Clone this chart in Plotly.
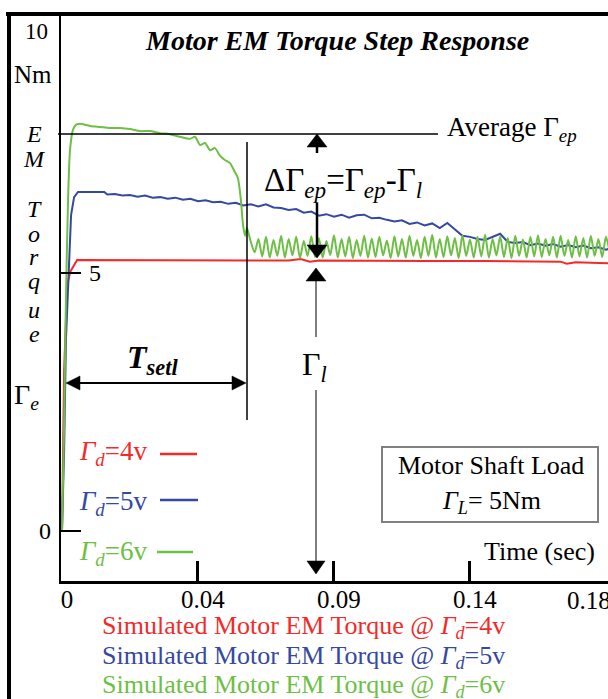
import plotly.graph_objects as go

# ---------------- data ----------------
red_series = [
    (0.0, 0.0), (0.0007, 3.1), (0.0017, 4.75), (0.0027, 5.02), (0.005, 5.25),
    (0.02, 5.25), (0.04, 5.25), (0.06, 5.25), (0.075, 5.24), (0.079, 5.27),
    (0.082, 5.22), (0.085, 5.24), (0.1, 5.23), (0.12, 5.23), (0.14, 5.23),
    (0.165, 5.22), (0.167, 5.18), (0.17, 5.21), (0.175, 5.2), (0.181, 5.19),
]

blue_series = [
    (0.0, 0.0), (0.0007, 1.57), (0.0013, 3.70), (0.002, 4.86), (0.003, 6.12),
    (0.004, 6.47), (0.0053, 6.57), (0.014, 6.57), (0.015, 6.52), (0.0175, 6.53),
    (0.02, 6.50), (0.0225, 6.51), (0.025, 6.48), (0.0275, 6.50), (0.03, 6.46),
    (0.0325, 6.47), (0.035, 6.44), (0.0375, 6.46), (0.04, 6.42), (0.0425, 6.44),
    (0.045, 6.39), (0.0475, 6.41), (0.05, 6.37), (0.0525, 6.38), (0.055, 6.34),
    (0.0575, 6.36), (0.06, 6.31), (0.0625, 6.33), (0.065, 6.29), (0.0675, 6.33),
    (0.07, 6.27), (0.0725, 6.26), (0.075, 6.22), (0.0775, 6.24), (0.08, 6.17),
    (0.0825, 6.19), (0.085, 6.11), (0.0875, 6.14), (0.09, 6.09), (0.0925, 6.13),
    (0.095, 6.07), (0.0975, 6.12), (0.1, 6.13), (0.1025, 6.06), (0.105, 6.07),
    (0.1075, 6.03), (0.11, 6.00), (0.1125, 6.02), (0.115, 5.95), (0.1175, 5.98),
    (0.12, 5.92), (0.1225, 5.96), (0.125, 5.87), (0.1275, 5.97), (0.13, 5.85),
    (0.1325, 5.72), (0.135, 5.70), (0.1375, 5.66), (0.14, 5.64), (0.1425, 5.70),
    (0.145, 5.76), (0.1475, 5.60), (0.15, 5.58), (0.1525, 5.60), (0.155, 5.54),
    (0.1575, 5.57), (0.16, 5.53), (0.1625, 5.56), (0.165, 5.51), (0.1675, 5.54),
    (0.17, 5.50), (0.1725, 5.53), (0.175, 5.48), (0.1775, 5.50), (0.18, 5.45),
    (0.181, 5.47),
]

green_series = [
    (0.0, 0.0), (0.00066, 1.96), (0.0013, 4.48), (0.002, 6.41), (0.00265, 7.38),
    (0.0036, 7.77), (0.0046, 7.87), (0.006, 7.89), (0.0093, 7.85), (0.0126, 7.83),
    (0.0159, 7.81), (0.0192, 7.81), (0.0225, 7.79), (0.0258, 7.75), (0.0291, 7.75),
    (0.0324, 7.71), (0.0357, 7.69), (0.039, 7.64), (0.0424, 7.60), (0.044, 7.64),
    (0.0457, 7.48), (0.0473, 7.52), (0.049, 7.38), (0.0506, 7.42), (0.0523, 7.27),
    (0.0539, 7.19), (0.0556, 7.13), (0.0569, 6.99), (0.0582, 6.84), (0.0592, 6.41),
    (0.0599, 5.93), (0.0606, 5.72), (0.0612, 5.87),
    (0.0625, 5.60), (0.06375, 5.40), (0.065, 5.66), (0.06625, 5.32), (0.0675, 5.70),
    (0.06875, 5.30), (0.07, 5.64), (0.07125, 5.33), (0.0725, 5.72), (0.07375, 5.30),
    (0.075, 5.66), (0.07625, 5.34), (0.0775, 5.70), (0.07875, 5.29), (0.08, 5.62),
    (0.08125, 5.33), (0.0825, 5.71), (0.08375, 5.31), (0.085, 5.68), (0.08625, 5.30),
    (0.0875, 5.62), (0.08875, 5.35), (0.09, 5.73), (0.09125, 5.30), (0.0925, 5.66),
    (0.09375, 5.32), (0.095, 5.70), (0.09625, 5.29), (0.0975, 5.64), (0.09875, 5.33),
    (0.1, 5.72), (0.10125, 5.30), (0.1025, 5.67), (0.10375, 5.31), (0.105, 5.70),
    (0.10625, 5.34), (0.1075, 5.63), (0.10875, 5.29), (0.11, 5.71), (0.11125, 5.32),
    (0.1125, 5.66), (0.11375, 5.30), (0.115, 5.72), (0.11625, 5.33), (0.1175, 5.64),
    (0.11875, 5.29), (0.12, 5.70), (0.12125, 5.33), (0.1225, 5.74), (0.12375, 5.30),
    (0.125, 5.66), (0.12625, 5.31), (0.1275, 5.71), (0.12875, 5.34), (0.13, 5.68),
    (0.13125, 5.29), (0.1325, 5.73), (0.13375, 5.33), (0.135, 5.65), (0.13625, 5.30),
    (0.1375, 5.70), (0.13875, 5.32), (0.14, 5.74), (0.14125, 5.30), (0.1425, 5.66),
    (0.14375, 5.34), (0.145, 5.71), (0.14625, 5.31), (0.1475, 5.68), (0.14875, 5.29),
    (0.15, 5.72), (0.15125, 5.33), (0.1525, 5.65), (0.15375, 5.30), (0.155, 5.70),
    (0.15625, 5.32), (0.1575, 5.73), (0.15875, 5.31), (0.16, 5.66), (0.16125, 5.34),
    (0.1625, 5.70), (0.16375, 5.30), (0.165, 5.72), (0.16625, 5.33), (0.1675, 5.64),
    (0.16875, 5.30), (0.17, 5.71), (0.17125, 5.32), (0.1725, 5.68), (0.17375, 5.30),
    (0.175, 5.72), (0.17625, 5.33), (0.1775, 5.66), (0.17875, 5.31), (0.18, 5.70),
    (0.18125, 5.40),
]

series_voltages = ["4v", "5v", "6v"]
series_colors = ["#f42a2a", "#3549a0", "#6dbf45"]

x_tick_vals = [0, 0.045, 0.09, 0.135, 0.18]
x_tick_text = ["0", "0.04", "0.09", "0.14", "0.18"]
y_tick_vals = [0, 5]
y_tick_text = ["0", "5"]
y_top_label = "10"
y_axis_letters = ["E", "M", "T", "o", "r", "q", "u", "e"]

SERIF = "Liberation Serif"

# ---------------- layout helpers (pixel -> paper) ----------------
W, H = 608, 699
PL, PR, PT, PB = 61, 608, 14, 581


def fx(px):
    return (px - PL) / (PR - PL)


def fy(py):
    return (PB - py) / (PB - PT)


def line(x0, y0, x1, y1, w=1.5, color="black"):
    return dict(type="line", xref="paper", yref="paper",
                x0=fx(x0), y0=fy(y0), x1=fx(x1), y1=fy(y1),
                line=dict(color=color, width=w))


def tri(tx, ty, direction, length=13, half=7):
    if direction == "up":
        pts = [(tx, ty), (tx - half, ty + length), (tx + half, ty + length)]
    elif direction == "down":
        pts = [(tx, ty), (tx - half, ty - length), (tx + half, ty - length)]
    elif direction == "left":
        pts = [(tx, ty), (tx + length, ty - half), (tx + length, ty + half)]
    else:
        pts = [(tx, ty), (tx - length, ty - half), (tx - length, ty + half)]
    path = "M " + " L ".join(f"{fx(a):.5f},{fy(b):.5f}" for a, b in pts) + " Z"
    return dict(type="path", xref="paper", yref="paper", path=path,
                fillcolor="black", line=dict(color="black", width=0.5))


def text(px, py, s, size, xanchor="center", color="black"):
    return dict(xref="paper", yref="paper", x=fx(px), y=fy(py), text=s,
                showarrow=False, xanchor=xanchor, yanchor="middle",
                font=dict(family=SERIF, size=size, color=color))


# ---------------- figure ----------------
fig = go.Figure()
for series, color in zip([red_series, blue_series, green_series], series_colors):
    is_green = series is green_series
    fig.add_trace(go.Scatter(
        x=[p[0] for p in series], y=[p[1] for p in series],
        mode="lines",
        line=dict(color=color, width=2,
                  shape="spline" if is_green else "linear",
                  smoothing=0.7 if is_green else None),
        hoverinfo="skip"))

shapes = []
# outer frame
shapes.append(line(6, 14, 608, 14, w=4))
shapes.append(line(9, 12, 9, 699, w=4))
# average line
shapes.append(line(58, 134, 438, 134, w=1.5))
# Tsetl vertical marker
shapes.append(line(247, 142, 247, 420, w=1.5))
# Tsetl double arrow
shapes.append(line(78, 383, 235, 383, w=2))
shapes.append(tri(66, 383, "left", length=14, half=7))
shapes.append(tri(246, 383, "right", length=14, half=7))
# delta arrow (thick), interrupted by its label
shapes.append(line(317, 146, 317, 153, w=2.5))
shapes.append(line(317, 203, 317, 248, w=2.5))
shapes.append(tri(317, 134, "up", length=13, half=10))
shapes.append(tri(317, 258, "down", length=13, half=10))
# load arrow (thin)
shapes.append(tri(316, 268, "up", length=13, half=10))
shapes.append(line(316, 280, 316, 337, w=1))
shapes.append(line(316, 390, 316, 562, w=1))
shapes.append(tri(316, 574, "down", length=13, half=9))
# legend line segments
for (x0, x1, yy), color in zip([(160, 197, 454), (160, 198, 500), (157, 193, 552)], series_colors):
    shapes.append(line(x0, yy, x1, yy, w=2.5, color=color))
# load box
shapes.append(dict(type="rect", xref="paper", yref="paper",
                   x0=fx(382), y0=fy(522), x1=fx(598), y1=fy(447),
                   line=dict(color="#808080", width=2), fillcolor="rgba(0,0,0,0)"))

ann = []
ann.append(text(337, 40, "<b><i>Motor EM Torque Step Response</i></b>", 28))
ann.append(text(445, 129, "Average Γ<sub><i>ep</i></sub>", 27, xanchor="left"))
ann.append(text(262, 182, "ΔΓ<sub><i>ep</i></sub>=Γ<sub><i>ep</i></sub>-Γ<sub><i>l</i></sub>", 33, xanchor="left"))
ann.append(text(300, 366, "Γ<sub><i>l</i></sub>", 32, xanchor="left"))
ann.append(text(125, 359, "<b><i>T</i></b><sub><b><i>setl</i></b></sub>", 32, xanchor="left"))
for yy, v, color in zip([453, 503, 553], series_voltages, series_colors):
    ann.append(text(150, yy, f"<i>Γ</i><sub><i>d</i></sub>={v}", 27, xanchor="right", color=color))
ann.append(text(491, 465, "Motor Shaft Load", 26))
ann.append(text(491, 502, "<i>Γ</i><sub><i>L</i></sub>= 5Nm", 26))
ann.append(text(482, 551, "Time (sec)", 26, xanchor="left"))
for yy, v, color in zip([627, 657, 686], series_voltages, series_colors):
    ann.append(text(100, yy, f"Simulated Motor EM Torque @ <i>Γ</i><sub><i>d</i></sub>={v}",
                    26, xanchor="left", color=color))
# last x tick label sits at the clipped right edge
ann.append(text(565, 600, x_tick_text[-1], 25, xanchor="left"))
# y axis labels
ann.append(text(36, 31, y_top_label, 23))
ann.append(text(33, 74, "Nm", 25))
for letter, yy in zip(y_axis_letters, [134, 159, 209, 234, 257, 281, 310, 334]):
    ann.append(text(34, yy, f"<i>{letter}</i>", 24))
ann.append(text(12, 396, "Γ<sub><i>e</i></sub>", 28, xanchor="left"))
ann.append(dict(xref="paper", yref="y", x=fx(53), y=y_tick_vals[0], text=y_tick_text[0],
                showarrow=False, xanchor="right", yanchor="middle",
                font=dict(family=SERIF, size=24, color="black")))
ann.append(dict(xref="paper", yref="y", x=fx(87), y=y_tick_vals[1], text=y_tick_text[1],
                showarrow=False, xanchor="left", yanchor="middle",
                font=dict(family=SERIF, size=24, color="black")))

fig.update_layout(
    width=W, height=H,
    margin=dict(l=PL, r=W - PR, t=PT, b=H - PB, autoexpand=False),
    paper_bgcolor="white", plot_bgcolor="white",
    showlegend=False,
    shapes=shapes, annotations=ann,
    xaxis=dict(range=[-0.000331, 0.180675], showgrid=False, zeroline=False,
               showline=True, linecolor="black", linewidth=3,
               ticks="inside", ticklen=20, tickwidth=2.5, tickcolor="black",
               tickvals=x_tick_vals[:-1], ticktext=x_tick_text[:-1],
               tickfont=dict(family=SERIF, size=25, color="black"),
               ticklabelshift=5, ticklabelstandoff=-6, automargin=False),
    yaxis=dict(range=[-0.969, 10.019], showgrid=False, zeroline=False,
               showline=True, linecolor="black", linewidth=2,
               ticks="inside", ticklen=20, tickwidth=2, tickcolor="black",
               tickvals=y_tick_vals, showticklabels=False, automargin=False),
)

fig.write_html("out.html")
